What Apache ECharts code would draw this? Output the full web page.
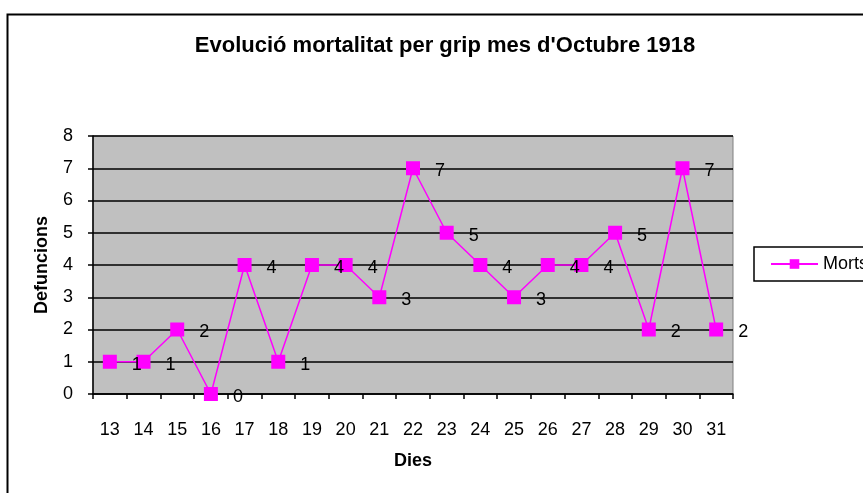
<!DOCTYPE html>
<html>
<head>
<meta charset="utf-8">
<script src="https://cdn.jsdelivr.net/npm/echarts@6/dist/echarts.min.js"></script>
<style>
  html, body { margin: 0; padding: 0; background: #fff; }
  #chart { width: 863px; height: 493px; }
</style>
</head>
<body>
<div id="chart"></div>
<script>
const days = ["13", "14", "15", "16", "17", "18", "19", "20", "21", "22",
  "23", "24", "25", "26", "27", "28", "29", "30", "31"];
const morts = [1, 1, 2, 0, 4, 1, 4, 4, 3, 7, 5, 4, 3, 4, 4, 5, 2, 7, 2];
const yTicks = [0, 1, 2, 3, 4, 5, 6, 7, 8];

const font = "Liberation Sans, Arial, sans-serif";

const options = {
  animation: false,
  textStyle: { fontFamily: font },
  graphic: [
    {
      type: "rect",
      left: 5,
      top: 12,
      shape: { width: 900, height: 520 },
      style: { fill: "none", stroke: "#000", lineWidth: 2 },
      silent: true,
    },
  ],
  title: {
    text: "Evolució mortalitat per grip mes d'Octubre 1918",
    left: 440,
    textAlign: "center",
    top: 30,
    textStyle: { fontFamily: font, fontSize: 22, fontWeight: "bold", color: "#000" },
  },
  legend: {
    left: 754,
    top: 247,
    orient: "vertical",
    padding: [8, 10, 8, 16],
    borderColor: "#000",
    borderWidth: 1.5,
    itemWidth: 47,
    itemHeight: 12,
    itemGap: 4,
    textStyle: { fontFamily: font, fontSize: 18, color: "#000" },
    data: ["Morts"],
  },
  grid: {
    left: 93,
    right: 130,
    top: 136,
    bottom: 99,
    show: true,
    backgroundColor: "#C0C0C0",
    borderColor: "#808080",
    borderWidth: 1,
  },
  xAxis: {
    type: "category",
    data: days,
    boundaryGap: true,
    name: "Dies",
    nameLocation: "middle",
    nameGap: 58,
    nameTextStyle: { fontFamily: font, fontSize: 18, fontWeight: "bold", color: "#000" },
    axisLine: { lineStyle: { color: "#000", width: 1.5 } },
    axisTick: { show: true, length: 5, alignWithLabel: false, lineStyle: { color: "#000", width: 1.5 } },
    axisLabel: { margin: 27, fontSize: 18, color: "#000", fontFamily: font, interval: 0 },
    splitLine: { show: false },
  },
  yAxis: {
    type: "value",
    min: yTicks[0],
    max: yTicks[yTicks.length - 1],
    interval: 1,
    name: "Defuncions",
    nameLocation: "middle",
    nameGap: 42,
    nameTextStyle: { fontFamily: font, fontSize: 18, fontWeight: "bold", color: "#000" },
    axisLine: { show: true, lineStyle: { color: "#000", width: 1.5 } },
    axisTick: { show: true, length: 5, lineStyle: { color: "#000", width: 1.5 } },
    axisLabel: { margin: 20, fontSize: 18, color: "#000", fontFamily: font },
    splitLine: { show: true, lineStyle: { color: "#000", width: 1.5 } },
  },
  series: [
    {
      name: "Morts",
      type: "line",
      data: morts,
      symbol: "rect",
      symbolSize: 14,
      color: "#FF00FF",
      lineStyle: { color: "#FF00FF", width: 1.5 },
      itemStyle: { color: "#FF00FF" },
      label: {
        show: true,
        position: "right",
        distance: 15,
        offset: [0, 3],
        fontSize: 18,
        color: "#000",
        fontFamily: font,
      },
      emphasis: { disabled: true },
    },
  ],
};

document.addEventListener("DOMContentLoaded", function () {
  const chart = echarts.init(document.getElementById("chart"));
  chart.setOption(options);
});
</script>
</body>
</html>
